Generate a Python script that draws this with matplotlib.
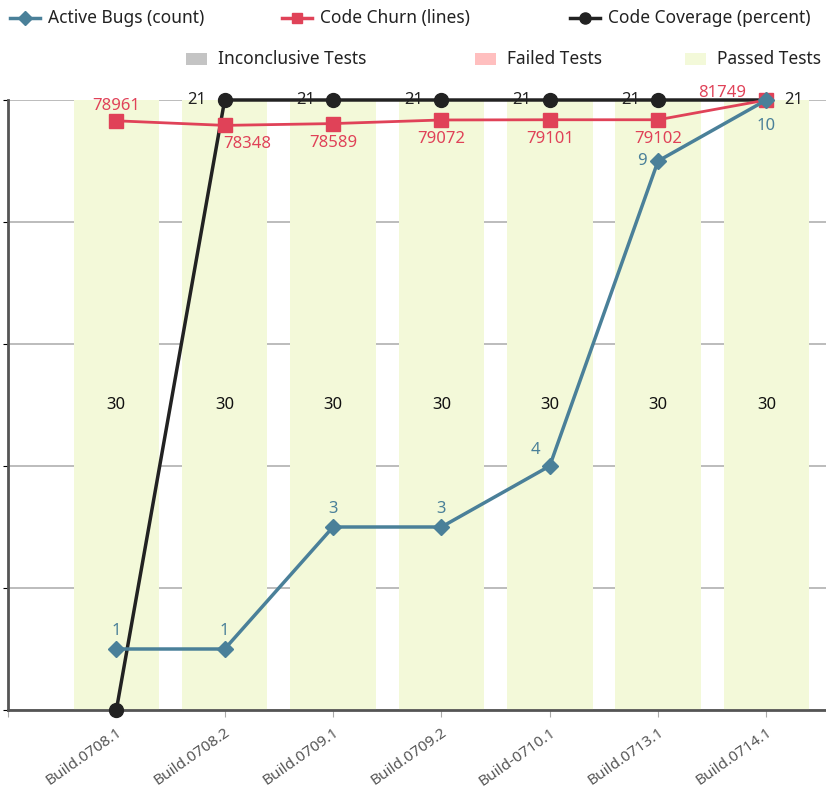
import matplotlib.pyplot as plt
from matplotlib.lines import Line2D
from matplotlib.patches import Rectangle

plt.rcParams['font.family'] = ['Noto Sans', 'DejaVu Sans']

# build quality data
builds = ["Build.0708.1", "Build.0708.2", "Build.0709.1", "Build.0709.2",
          "Build-0710.1", "Build.0713.1", "Build.0714.1"]
passed_tests = [30, 30, 30, 30, 30, 30, 30]
active_bugs = [1, 1, 3, 3, 4, 9, 10]
code_churn = [78961, 78348, 78589, 79072, 79101, 79102, 81749]
code_coverage = [0, 21, 21, 21, 21, 21, 21]

BUG_COLOR = "#4a8099"
CHURN_COLOR = "#e04258"
COV_COLOR = "#222222"
PASSED_COLOR = "#f3f9d9"
FAILED_COLOR = "#ffbfbf"
INCONCL_COLOR = "#c4c4c4"

W, H = 826, 793
fig = plt.figure(figsize=(W / 100, H / 100), dpi=100)


def fx(px):
    return px / W


def fy(py):
    return 1 - py / H


ax = fig.add_axes([fx(8), fy(710), 1 - fx(8), fy(100) - fy(710)])
x = list(range(len(builds)))

# stacked test results (only passed tests present)
bars = ax.bar(x, passed_tests, width=0.79, color=PASSED_COLOR, zorder=1)
for xi, v in zip(x, passed_tests):
    ax.text(xi, v / 2, str(v), ha='center', va='center', fontsize=12,
            fontweight='medium', color='#111111', zorder=5)

ax.set_xlim(-1.0, 6.55)
ax.set_ylim(0, max(passed_tests))
ax.set_yticks(range(0, 31, 6))
ax.yaxis.grid(True, color='#b0b0b0', linewidth=1.2, zorder=0)
ax.set_axisbelow(True)
ax.tick_params(axis='y', left=False, labelleft=False)
ax.set_xticks([-1] + x)
ax.set_xticklabels([""] + builds, rotation=35, ha='right',
                   rotation_mode='anchor', fontsize=11, color='#555555')
ax.tick_params(axis='x', length=5, color='#aaaaaa', pad=6)
for side in ('top', 'right'):
    ax.spines[side].set_visible(False)
for side in ('left', 'bottom'):
    ax.spines[side].set_color('#555555')
    ax.spines[side].set_linewidth(2)


def overlay(lo, hi):
    a = ax.twinx()
    a.set_ylim(lo, hi)
    a.set_xlim(ax.get_xlim())
    a.axis('off')
    return a


ax_cov = overlay(0, max(code_coverage))
ax_churn = overlay(0, max(code_churn))
ax_bugs = overlay(0, max(active_bugs))

# code coverage
ax_cov.plot(x, code_coverage, color=COV_COLOR, linewidth=2.5, marker='o',
            markersize=10, zorder=3, clip_on=False)
for i, v in enumerate(code_coverage):
    if i == 0:
        continue
    off = (13, 0) if i == len(x) - 1 else (-13, 0)
    ha = 'left' if i == len(x) - 1 else 'right'
    ax_cov.annotate(str(v), (i, v), xytext=off, textcoords='offset points',
                    ha=ha, va='center', fontsize=12, color=COV_COLOR)

# code churn
ax_churn.plot(x, code_churn, color=CHURN_COLOR, linewidth=2, marker='s',
              markersize=10.5, zorder=4, clip_on=False)
for i, v in enumerate(code_churn):
    if i == 0:
        off, ha, va = (0, 5), 'center', 'bottom'
    elif i == 1:
        off, ha, va = (16, -8), 'center', 'top'
    elif i == len(x) - 1:
        off, ha, va = (-32, 5), 'center', 'center'
    else:
        off, ha, va = (0, -8), 'center', 'top'
    ax_churn.annotate(str(v), (i, v), xytext=off, textcoords='offset points',
                      ha=ha, va=va, fontsize=12, color=CHURN_COLOR)

# active bugs
ax_bugs.plot(x, active_bugs, color=BUG_COLOR, linewidth=2.5, marker='D',
             markersize=8, zorder=5, clip_on=False)
for i, v in enumerate(active_bugs):
    if i == 4:
        off, ha, va = (-7, 6), 'right', 'bottom'
    elif i == len(x) - 2:
        off, ha, va = (-8, 0), 'right', 'center'
    elif i == len(x) - 1:
        off, ha, va = (0, -13), 'center', 'top'
    else:
        off, ha, va = (0, 7), 'center', 'bottom'
    ax_bugs.annotate(str(v), (i, v), xytext=off, textcoords='offset points',
                     ha=ha, va=va, fontsize=12, color=BUG_COLOR)

# legend, first row: line series
line_items = [("Active Bugs (count)", BUG_COLOR, 'D', 7, 10),
              ("Code Churn (lines)", CHURN_COLOR, 's', 7, 282),
              ("Code Coverage (percent)", COV_COLOR, 'o', 8, 570)]
for label, color, mk, ms, x0 in line_items:
    fig.add_artist(Line2D([fx(x0), fx(x0 + 30)], [fy(18), fy(18)],
                          color=color, linewidth=2.5))
    fig.add_artist(Line2D([fx(x0 + 15)], [fy(18)], color=color, marker=mk,
                          markersize=ms, linestyle='none'))
    fig.text(fx(x0 + 38), fy(18), label, ha='left', va='center',
             fontsize=12.5, fontweight='medium', color='#222222')

# legend, second row: test outcome patches
patch_items = [("Inconclusive Tests", INCONCL_COLOR, 186),
               ("Failed Tests", FAILED_COLOR, 475),
               ("Passed Tests", PASSED_COLOR, 685)]
for label, color, x0 in patch_items:
    fig.add_artist(Rectangle((fx(x0), fy(65)), fx(21), fy(53) - fy(65),
                             facecolor=color, edgecolor='none'))
    fig.text(fx(x0 + 32), fy(59), label, ha='left', va='center',
             fontsize=12.5, fontweight='medium', color='#222222')

fig.savefig("out.png", dpi=100)
